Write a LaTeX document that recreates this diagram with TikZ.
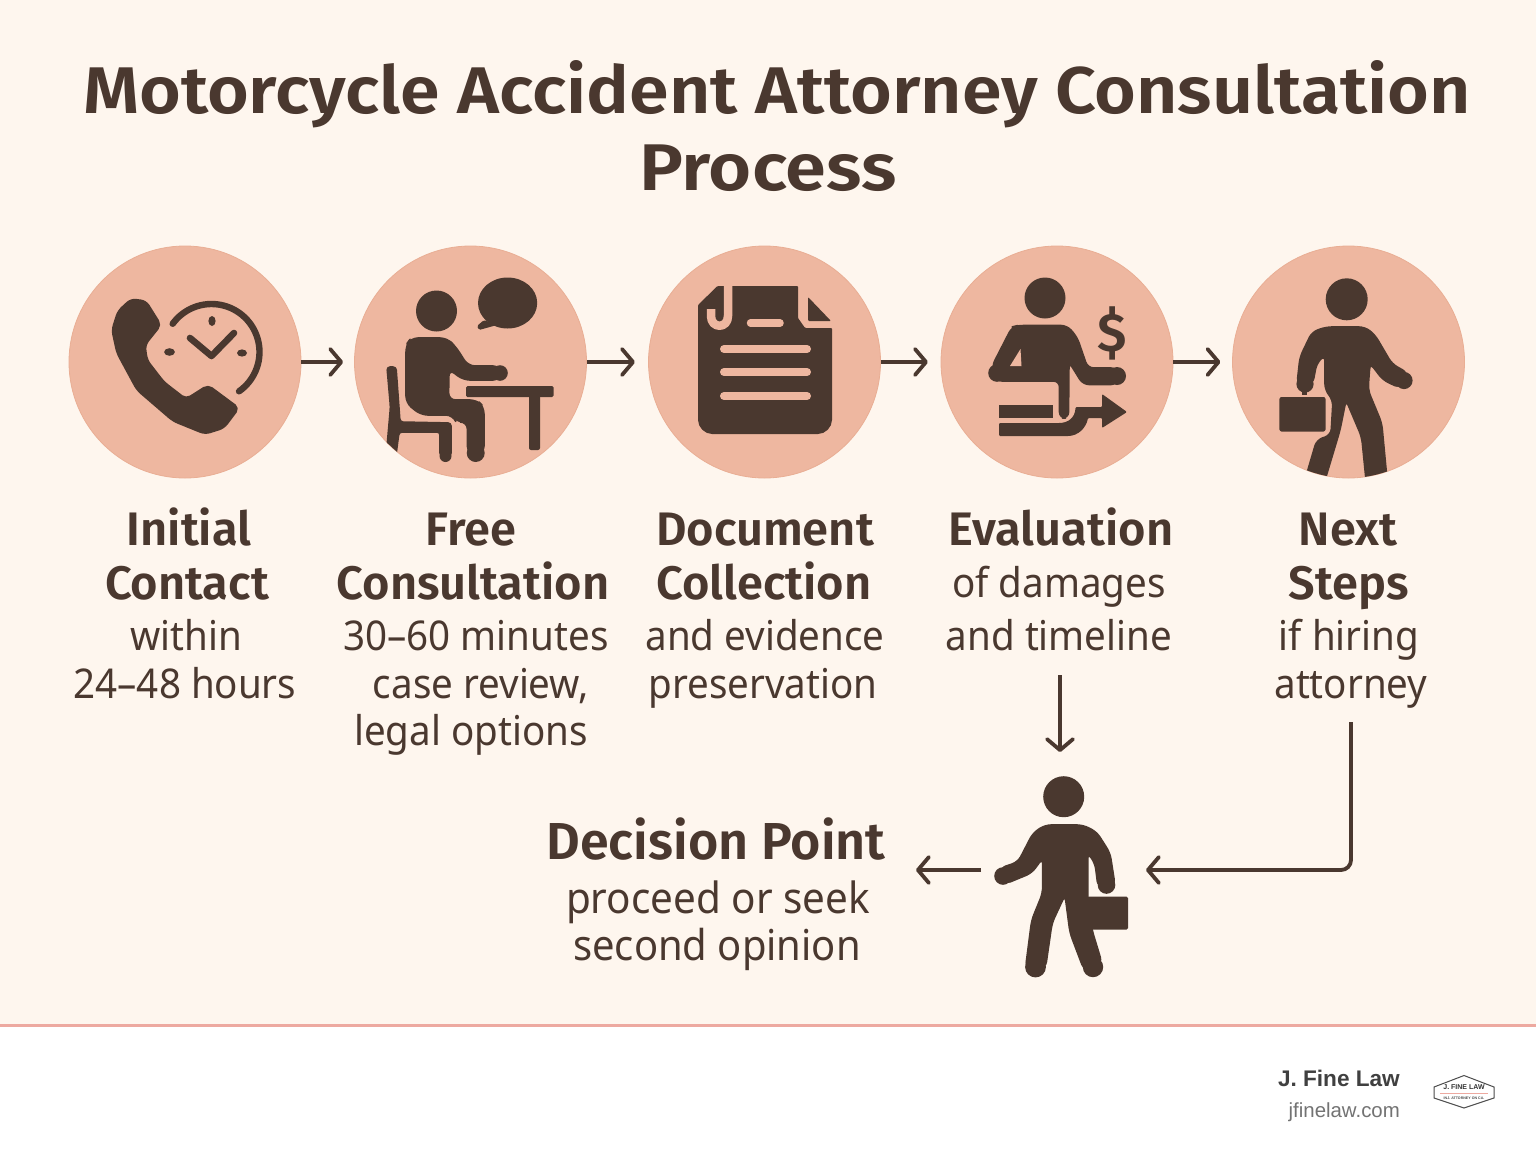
\documentclass[tikz,border=0pt]{standalone}
\usepackage{fontspec}
\setmainfont{Noto Sans}[FakeStretch=0.94]
\newfontfamily\hf{Fira Sans}[BoldFont={Fira Sans SemiBold}]
\newfontfamily\tf{Fira Sans}[BoldFont={Fira Sans SemiBold},BoldFeatures={FakeStretch=1.085}]
\newfontfamily\pf{Fira Sans}[BoldFont={Fira Sans SemiBold},BoldFeatures={FakeStretch=1.12}]
\newfontfamily\footfont{Liberation Sans}
\usetikzlibrary{arrows.meta}
\definecolor{bgc}{HTML}{FEF6EE}
\definecolor{ink}{HTML}{4A382F}
\definecolor{salm}{HTML}{EEB7A0}
\definecolor{salmedge}{HTML}{E9AE94}
\definecolor{rulec}{HTML}{EDA9A0}
\tikzset{
  disc/.style={circle,fill=salm,draw=salmedge,line width=0.8pt,minimum size=232pt,inner sep=0pt},
  flow/.style={draw=ink,line width=3.8pt,-{Straight Barb[length=11pt,width=26pt,line width=3.8pt,round]}},
  glyph/.style={fill=ink,draw=ink,line width=1.6pt,line join=round},
  gap/.style={line width=8pt,draw=salm,line cap=round,line join=round},
  stroke/.style={draw=ink,line cap=round,line join=round},
  ttl/.style={text=ink,anchor=base,inner sep=0pt},
  hdl/.style={text=ink,anchor=base,inner sep=0pt,font=\hf\fontsize{47}{54}\selectfont\bfseries},
  bdl/.style={text=ink,anchor=base,inner sep=0pt,font=\fontsize{41}{48}\selectfont},
}
\begin{document}
\begin{tikzpicture}[x=1pt,y=-1pt]
\useasboundingbox (0,0) rectangle (1536,1154);
\fill[bgc] (0,0) rectangle (1536,1026);
\fill[white] (0,1026) rectangle (1536,1154);
\draw[rulec,line width=3pt] (0,1025) -- (1536,1025);

\node[ttl,font=\tf\fontsize{66}{70}\selectfont\bfseries] (title1) at (777,113) {Motorcycle Accident Attorney Consultation};
\node[ttl,font=\pf\fontsize{66}{70}\selectfont\bfseries] (title2) at (768,190) {Process};

\node[disc] (c1) at (185,362) {};
\node[disc] (c2) at (470.5,362) {};
\node[disc] (c3) at (764.5,362) {};
\node[disc] (c4) at (1057,362) {};
\node[disc] (c5) at (1348.5,362) {};

% phone
\fill[glyph,rounded corners=5pt] (131,299) -- (146,301) -- (161,325) -- (145,345) -- (147,360) -- (164,382) -- (186,399) -- (208,385) -- (239,408) -- (224,428) -- (205,434) -- (173,421) -- (137,390) -- (117,353) -- (112,330) -- (118,311) -- cycle;
\draw[stroke,line width=6.4pt] plot[domain=216:415,samples=50] ({211.5+48*cos(\x)},{352+48*sin(\x)});
\draw[stroke,line width=6.6pt] (190,338) -- (211.5,356) -- (234,333);
\fill[ink] (212,321) ellipse[x radius=3.6,y radius=5];
\fill[ink] (169.5,352) ellipse[x radius=5.4,y radius=3.8];
\fill[ink] (242,353) ellipse[x radius=5,y radius=3.6];

% consultation
\begin{scope}
\clip (c2.center) circle[radius=116];
\fill[ink] (436.5,311) circle[radius=20.5];
\fill[ink] (507.6,303) ellipse[x radius=29.6,y radius=25.5];
\fill[ink,rounded corners=1.5pt] (484,320) -- (477,326) -- (479,330) -- (497,325) -- cycle;
\fill[glyph,rounded corners=7pt] (406,345) -- (411,338) -- (447,338) -- (456,347) -- (468,366) -- (500,366) -- (500,380) -- (463,380) -- (449,369) -- (448.5,400) -- (477,400) -- (484,407) -- (484,453) -- (467.4,453) -- (467.4,422) -- (456,422) -- (453,415) -- (421,415) -- (406,403) -- cycle;
\fill[ink] (500,373) circle[radius=7.8];
\fill[ink] (475.7,453) circle[radius=9];
\fill[glyph,rounded corners=3pt] (387,367) -- (396,367) -- (400,422) -- (451,423) -- (451,456) -- (440,456) -- (440,432) -- (399,432) -- (394,470) -- (385,470) -- (390.5,407) -- cycle;
\fill[ink] (445.5,456) circle[radius=6];
\fill[ink,rounded corners=1.5pt] (466,386) rectangle (553.5,397);
\fill[ink,rounded corners=2pt] (529,390) rectangle (540,450);
\end{scope}

% document
\fill[ink,rounded corners=1pt] (698,305) -- (717.5,286) -- (798,286) -- (798,318) -- (805,328) -- (832,328) -- (832,419) arc[start angle=0,end angle=90,radius=15] -- (713,434) arc[start angle=90,end angle=180,radius=15] -- cycle;
\fill[ink,rounded corners=1pt] (808,297) -- (831,321) -- (808,321) -- cycle;
\draw[gap,line width=8.5pt,line cap=butt] (728,284) -- (728,316) .. controls (728,329) and (711,329) .. (711,316) -- (711,309);
\draw[gap,line width=7.5pt] (750.5,323) -- (780,323);
\draw[gap] (724,349) -- (807,349);
\draw[gap] (724,372) -- (807,372);
\draw[gap] (724,396) -- (807,396);

% evaluation
\fill[ink] (1045,298) circle[radius=20.5];
\fill[glyph,rounded corners=6pt] (1012,327) -- (1018,325.5) -- (1067,325.5) -- (1077,337) -- (1087.7,368) -- (1117,368) -- (1117,384.5) -- (1083,384.5) -- (1069,362) -- (1068.5,418) -- (1059.5,418) -- (1059.5,381) -- (996,381) -- (992,366) -- cycle;
\fill[ink] (1117,376) circle[radius=9];
\fill[ink] (997,373) circle[radius=8.8];
\fill[salm] (1020.5,349) -- (1010,366) -- (1021.5,366) -- cycle;
\node[text=ink,inner sep=0pt,font=\hf\fontsize{54}{56}\selectfont\bfseries] (dollar) at (1112,333) {\$};
\fill[ink] (999,405) rectangle (1052.5,418);
\fill[ink,rounded corners=1pt] (999,423) -- (1058,423) .. controls (1068,423) and (1075,418) .. (1075.6,407) -- (1102,407) -- (1102,394) -- (1127,412) -- (1102,428) -- (1102,418) -- (1088,418) .. controls (1086,428) and (1078,436) .. (1067,436) -- (999,436) -- cycle;

% next steps
\begin{scope}
\clip (c5.center) circle[radius=116];
\fill[ink] (1346.7,299.3) circle[radius=21];
\fill[glyph,rounded corners=6pt] (1312,332) -- (1326,327) -- (1365,327) -- (1375,335) -- (1392,364) -- (1408,373) -- (1400,388) -- (1383,380) -- (1370,363) -- (1368,390) -- (1381.7,423) -- (1388,490) -- (1367,490) -- (1361.7,437) -- (1346,400) -- (1340,430) -- (1322,490) -- (1302,490) -- (1316.7,440) -- (1331,435) -- (1333,400) -- (1325,390) -- (1325,355) -- (1316.7,363) -- (1312.7,384) -- (1297,384) -- (1300,357) -- cycle;
\fill[ink] (1404,380.5) circle[radius=8.6];
\fill[ink] (1305,384) circle[radius=8.6];
\fill[ink] (1302,388) rectangle (1307,398);
\fill[ink,draw=salm,line width=1.6pt,rounded corners=3pt] (1278.5,396) rectangle (1326.5,432.5);
\end{scope}

% decision figure
\fill[ink] (1063.7,796.7) circle[radius=20.5];
\fill[ink,rounded corners=1.5pt] (1087,896.7) rectangle (1128,929.5);
\fill[glyph,rounded corners=6pt] (1033,833) -- (1045,825) -- (1083,825) -- (1096.7,832) -- (1110,853) -- (1115,885) -- (1098,887) -- (1095,863) -- (1087.7,853) -- (1087.7,900) -- (1092,930) -- (1102,963) -- (1084,970) -- (1070,933) -- (1065,895) -- (1052,923) -- (1045.5,968) -- (1025.5,968) -- (1031.7,920) -- (1042.7,893) -- (1042.7,858) -- (1031.7,873) -- (1005,884) -- (1000,868) -- (1018,862) -- cycle;
\fill[ink] (1003,876) circle[radius=8.8];
\fill[ink] (1106.5,885) circle[radius=8.8];
\fill[ink] (1035.5,967) circle[radius=10.4];
\fill[ink] (1093,967) circle[radius=10.2];

% labels
\node[hdl] (t1a) at (189,545) {Initial};
\node[hdl] (t1b) at (187,599) {Contact};
\node[bdl] (t1c) at (186,650) {within};
\node[bdl] (t1d) at (185,698) {24–48 hours};
\node[hdl] (t2a) at (471,545) {Free};
\node[hdl] (t2b) at (473,599) {Consultation};
\node[bdl] (t2c) at (476,650) {30–60 minutes};
\node[bdl] (t2d) at (481,698) {case review,};
\node[bdl] (t2e) at (471,745) {legal options};
\node[hdl] (t3a) at (765,545) {Document};
\node[hdl] (t3b) at (764,599) {Collection};
\node[bdl] (t3c) at (765,650) {and evidence};
\node[bdl] (t3d) at (763,698) {preservation};
\node[hdl] (t4a) at (1061,545) {Evaluation};
\node[bdl] (t4b) at (1059,597) {of damages};
\node[bdl] (t4c) at (1059,650) {and timeline};
\node[hdl] (t5a) at (1348,545) {Next};
\node[hdl] (t5b) at (1349,599) {Steps};
\node[bdl] (t5c) at (1349,650) {if hiring};
\node[bdl] (t5d) at (1351,698) {attorney};
\node[hdl,font=\hf\fontsize{52}{58}\selectfont\bfseries] (t6a) at (716,859) {Decision Point};
\node[bdl,font=\fontsize{43}{48}\selectfont] (t6b) at (718,913) {proceed or seek};
\node[bdl,font=\fontsize{42.5}{48}\selectfont] (t6c) at (717,960) {second opinion};

% connectors
\coordinate (a5) at (1060,675);
\coordinate (a6) at (1060,752);
\coordinate (a7) at (981,870);
\coordinate (a8) at (916,870);
\coordinate (a9) at (1351,722);
\coordinate (a10) at (1146,870);
\draw[flow,shorten >=11pt] (c1.east) -- (c2.west);
\draw[flow] (c2.east) -- ([xshift=48pt]c2.east);
\draw[flow] (c3.east) -- ([xshift=47pt]c3.east);
\draw[flow] (c4.east) -- ([xshift=47pt]c4.east);
\draw[flow] (a5) -- (a6);
\draw[flow] (a7) -- (a8);
\draw[flow,rounded corners=10pt] (a9) |- (a10);

% footer
\node[anchor=base east,inner sep=0pt,text=black!75] (brand) at (1400,1086) {\footfont\fontsize{22.6}{25}\selectfont\bfseries J. Fine Law};
\node[anchor=base east,inner sep=0pt,text=black!55] (site) at (1400,1117) {\footfont\fontsize{20.4}{22}\selectfont jfinelaw.com};
\fill[white,draw=black!70,line width=1pt] (1434,1087) -- (1464,1075.5) -- (1494,1087) -- (1494,1098) -- (1464,1108) -- (1434,1098) -- cycle;
\node[inner sep=0pt,text=black!80] (logo1) at (1464,1087.5) {\footfont\fontsize{7}{8}\selectfont\bfseries J. FINE LAW};
\draw[rulec,line width=0.6pt] (1440,1093.5) -- (1488,1093.5);
\node[inner sep=0pt,text=black!70] (logo2) at (1464,1098.5) {\footfont\fontsize{3.6}{4}\selectfont\bfseries INJ. ATTORNEY ON CA.};
\end{tikzpicture}
\end{document}
